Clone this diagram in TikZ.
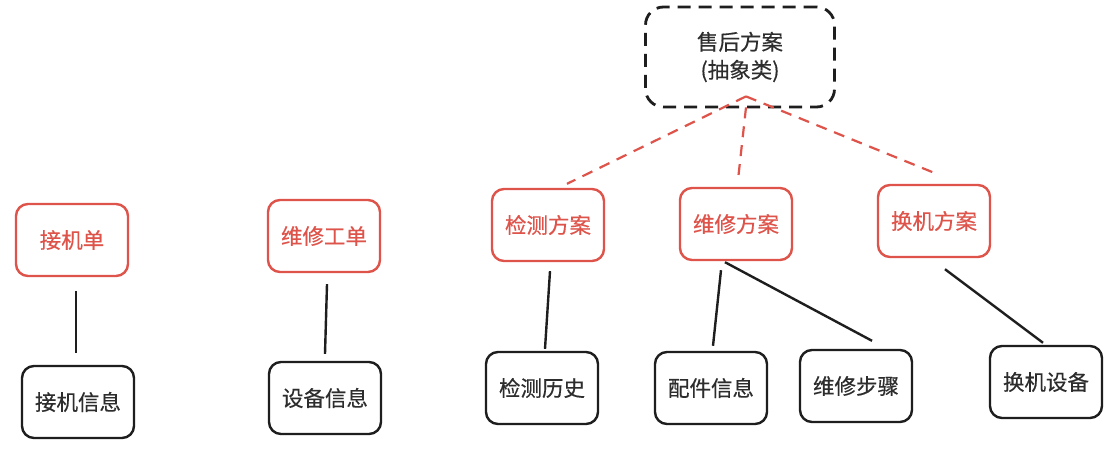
\documentclass[tikz,border=0pt]{standalone}
\usepackage{fontspec}
\setmainfont{Noto Sans CJK SC}[FakeBold=0.4]
\usetikzlibrary{calc}
\definecolor{boxred}{RGB}{222,84,74}
\definecolor{boxblack}{RGB}{30,30,30}
\definecolor{txtblack}{RGB}{45,45,45}
\tikzset{
  base/.style={rounded corners=12pt, line width=2.4pt, align=center,
    minimum width=112pt, minimum height=72pt, inner sep=0pt,
    font=\fontsize{21.5pt}{28pt}\selectfont},
  redbox/.style={base, draw=boxred, text=boxred},
  blackbox/.style={base, draw=boxblack, text=txtblack},
  absbox/.style={base, draw=boxblack, text=txtblack, dash pattern=on 13pt off 8pt,
    line width=2.8pt, rounded corners=18pt, minimum width=189pt, minimum height=100pt},
  reddash/.style={draw=boxred, line width=2.2pt, dash pattern=on 11pt off 8pt},
  blackline/.style={draw=boxblack, line width=2.4pt},
}
\begin{document}
\begin{tikzpicture}[x=1pt,y=-1pt]
\useasboundingbox (0,0) rectangle (1116,454);
\fill[white] (0,0) rectangle (1116,454);
% abstract class
\node[absbox] (abs) at (740,57) {售后方案\\(抽象类)};
% red boxes
\node[redbox] (jjd) at (72,240) {接机单};
\node[redbox] (wxgd) at (324,236) {维修工单};
\node[redbox] (jcfa) at (548,225) {检测方案};
\node[redbox] (wxfa) at (736,224) {维修方案};
\node[redbox] (hjfa) at (934,221) {换机方案};
% black boxes
\node[blackbox] (jjxx) at (78,402) {接机信息};
\node[blackbox] (sbxx) at (325,398) {设备信息};
\node[blackbox] (jcls) at (542,388) {检测历史};
\node[blackbox] (pjxx) at (711,388) {配件信息};
\node[blackbox] (wxbz) at (856,386) {维修步骤};
\node[blackbox] (hjsb) at (1046,382) {换机设备};
% dashed inheritance lines
\coordinate (apex) at ($(abs.south)+(6,-12)$);
\draw[reddash] (apex) -- ($(jcfa.north)+(19,-4)$);
\draw[reddash] ($(abs.south)+(6,-1)$) -- ($(wxfa.north)+(2,-7)$);
\draw[reddash] (apex) -- ($(hjfa.north)+(5,-9)$);
% solid lines
\draw[blackline] ($(jjd.south)+(4,14)$) -- ($(jjxx.north)+(-2,-12)$);
\draw[blackline] ($(wxgd.south)+(3,11)$) -- ($(sbxx.north)+(0,-7)$);
\draw[blackline] ($(jcfa.south)+(2,9)$) -- ($(jcls.north)+(3,-2)$);
\draw[blackline] ($(wxfa.south)+(-15,9)$) -- ($(pjxx.north)+(2,-5)$);
\draw[blackline] ($(wxfa.south)+(-11,1)$) -- ($(wxbz.north)+(16,-8)$);
\draw[blackline] ($(hjfa.south)+(11,11)$) -- ($(hjsb.north)+(-3,-2)$);
\end{tikzpicture}
\end{document}
